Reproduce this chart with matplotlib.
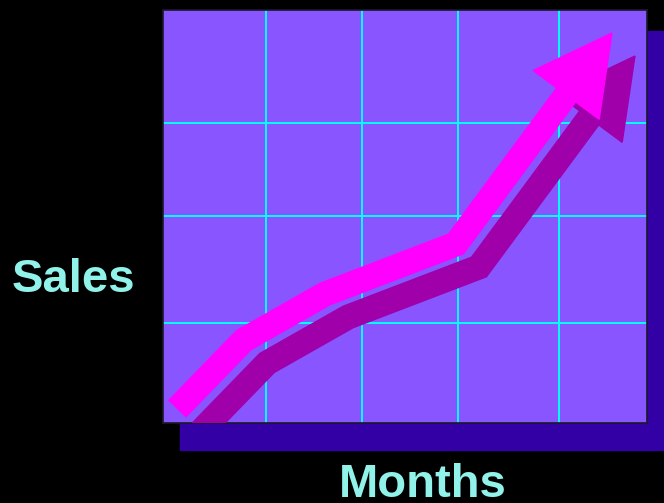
"""Clip-art style sales chart: rising arrow over a grid."""

import matplotlib
matplotlib.use("Agg")
import matplotlib.pyplot as plt
import numpy as np
from matplotlib.patches import Polygon, Rectangle
from matplotlib.transforms import ScaledTranslation

# data (axis units: months 0-5, sales 0-4)
months = [0.145, 0.837, 1.674, 3.027, 4.638]
sales = [0.136, 0.804, 1.249, 1.734, 3.777]
grid_months = [1.064, 2.056, 3.048, 4.09]
grid_sales = [0.969, 2.005, 2.905]

BG = "#8855ff"
GRID = "#00ffff"
ARROW = "#ff00ff"
ARROW_SHADOW = "#a000aa"
BOX_SHADOW = "#3300a6"
TEXT = "#90f2e8"

W, H = 664, 503
fig = plt.figure(figsize=(W / 100, H / 100), dpi=100, facecolor="black")

# drop shadow behind the plot box
fig.patches.append(Rectangle((180 / W, 1 - 450 / H), (664 - 180) / W, (450 - 31) / H,
                             transform=fig.transFigure, color=BOX_SHADOW, zorder=0))

ax = fig.add_axes([163 / W, 1 - 423 / H, (647 - 163) / W, (423 - 10) / H])
ax.set_zorder(2)
ax.set_facecolor(BG)
ax.set_xlim(0, 5)
ax.set_ylim(0, 4)
ax.set_xticks(grid_months)
ax.set_yticks(grid_sales)
ax.tick_params(length=0, labelbottom=False, labelleft=False)
ax.grid(True, color=GRID, lw=1.4)
ax.set_axisbelow(True)
for s in ax.spines.values():
    s.set_color("#1a1a2a")
    s.set_linewidth(1.2)

# arrow head geometry in pixels
head_len, head_w = 77, 82
pts = ax.transData.transform(np.column_stack([months, sales]))
tip = pts[-1]
d = tip - pts[-2]
d = d / np.hypot(*d)
n = np.array([-d[1], d[0]])
base = tip - d * head_len
shaft = np.vstack([pts[:-1], base + d * 4])
head = np.array([tip, base + n * head_w / 2, base - n * head_w / 2])
shaft_data = ax.transData.inverted().transform(shaft)
head_data = ax.transData.inverted().transform(head)

shadow_tr = ax.transData + ScaledTranslation(23 / 100, -23 / 100, fig.dpi_scale_trans)

for tr, col, z in [(shadow_tr, ARROW_SHADOW, 3), (ax.transData, ARROW, 4)]:
    ax.plot(shaft_data[:, 0], shaft_data[:, 1], color=col, lw=18,
            solid_joinstyle="miter", solid_capstyle="butt", transform=tr, zorder=z)
    ax.add_patch(Polygon(head_data, closed=True, color=col, transform=tr, zorder=z))

fig.text(73 / W, 1 - 292 / H, "Sales", color=TEXT, fontsize=34, fontweight="bold",
         family="Liberation Sans", ha="center", va="baseline")
fig.text(423 / W, 1 - 497 / H, "Months", color=TEXT, fontsize=34, fontweight="bold",
         family="Liberation Sans", ha="center", va="baseline")

fig.savefig("out.png", dpi=100, facecolor="black")
